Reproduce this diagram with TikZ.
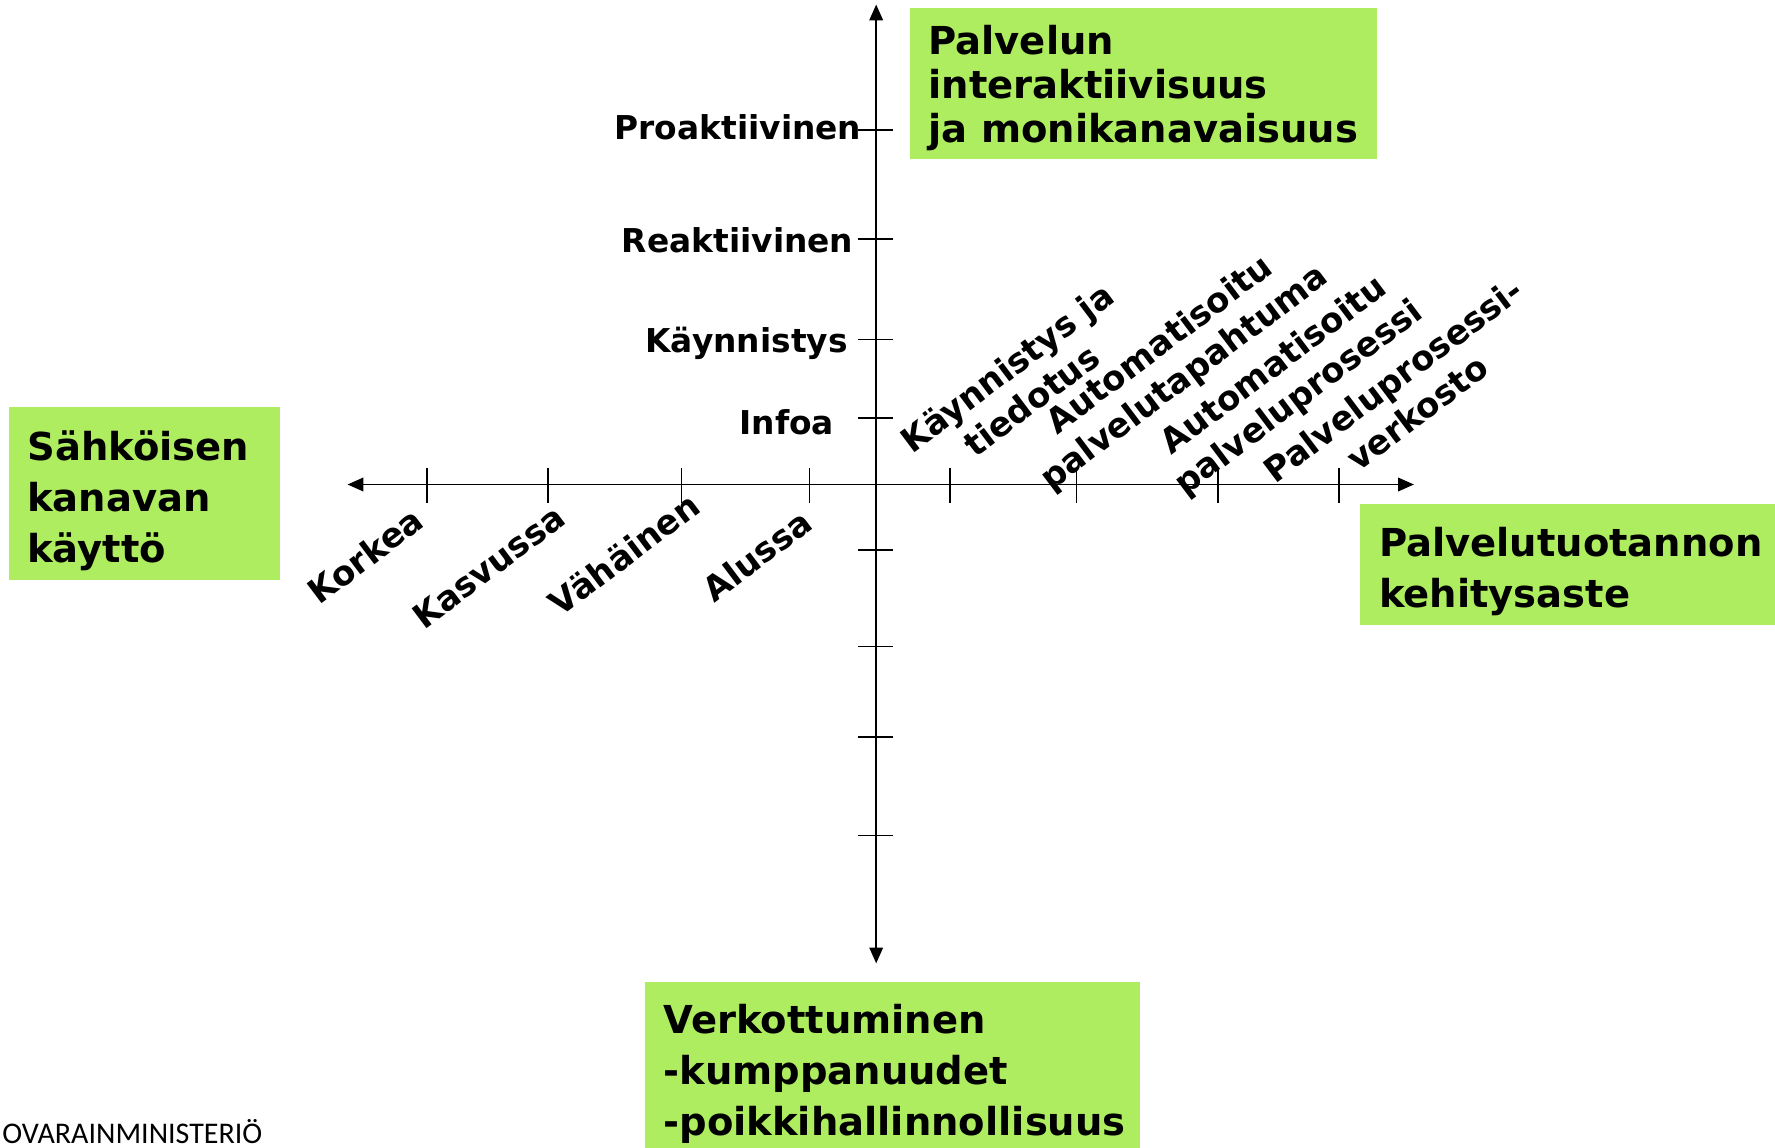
\documentclass[tikz,border=0pt]{standalone}
\usepackage{fontspec}
\setmainfont{DejaVu Sans}
\newfontfamily\footfont{Carlito}
\usetikzlibrary{arrows.meta}
\definecolor{gfill}{RGB}{174,236,96}
\begin{document}
\begin{tikzpicture}[x=1pt,y=-1pt,
  axis/.style={line width=1.6pt, draw=black, {Triangle[length=14pt,width=12pt]}-{Triangle[length=14pt,width=12pt]}},
  tickmark/.style={line width=1.4pt},
  lab/.style={font=\fontsize{29}{35}\selectfont\bfseries, inner sep=0pt},
  dlab/.style={font=\fontsize{30}{36}\selectfont\bfseries, inner sep=0pt, rotate=37, align=center},
  gbox/.style={fill=gfill, draw=none, inner sep=0pt, anchor=north west},
  btext/.style={font=\fontsize{34}{45}\selectfont\bfseries, align=left, inner sep=0pt, anchor=west},
]
\useasboundingbox (0,0) rectangle (1568,1014);

% green boxes
\node[gbox, minimum width=412, minimum height=133] (bTop) at (804,7) {};
\node[gbox, minimum width=239, minimum height=153] (bLeft) at (8,359) {};
\node[gbox, minimum width=367, minimum height=107] (bRight) at (1201,445) {};
\node[gbox, minimum width=437, minimum height=147] (bBot) at (570,867) {};

\node[btext, font=\fontsize{34}{38.9}\selectfont\bfseries] (tTop) at (820,77.6) {Palvelun\\interaktiivisuus\\ja monikanavaisuus};
\node[btext] (tLeft) at (24,442) {Sähköisen\\kanavan\\käyttö};
\node[btext] (tRight) at (1218,505) {Palvelutuotannon\\kehitysaste};
\node[btext] (tBot) at (586,949) {Verkottuminen\\-kumppanuudet\\-poikkihallinnollisuus};

% axes
\coordinate (xl) at (307,428);
\coordinate (xr) at (1249,428);
\coordinate (yt) at (774,4);
\coordinate (yb) at (774,851);
\draw[axis] (xl) -- (xr);
\draw[axis] (yt) -- (yb);

% ticks
\foreach \x in {377,484,602,715,839,951,1076,1183}
  \draw[tickmark] (\x,413) -- (\x,444);
\foreach \y in {115,211,300,369,486,571,651,738}
  \draw[tickmark] (758,\y) -- (789,\y);

% vertical axis labels
\node[lab, anchor=east] (lP) at (761,112) {Proaktiivinen};
\node[lab, anchor=east] (lR) at (754,212) {Reaktiivinen};
\node[lab, anchor=east] (lK) at (749,303) {Käynnistys};
\node[lab, anchor=east] (lI) at (737,373) {Infoa};

% left horizontal labels
\node[dlab, anchor=east] (hK) at (370,455) {Korkea};
\node[dlab, anchor=east] (hKa) at (495,453) {Kasvussa};
\node[dlab, anchor=east] (hV) at (614,442) {Vähäinen};
\node[dlab, anchor=east] (hA) at (713,457) {Alussa};

% right horizontal labels
\node[dlab] (r1) at (900,339) {Käynnistys ja\\tiedotus};
\node[dlab] (r2) at (1036,320) {Automatisoitu\\palvelutapahtuma};
\node[dlab] (r3) at (1137,338) {Automatisoitu\\palveluprosessi};
\node[dlab] (r4) at (1241,350) {Palveluprosessi-\\verkosto};

% footer
\node[font=\footfont\fontsize{26.5}{30}\selectfont, anchor=base west, inner sep=0pt] (foot) at (2,1010) {OVARAINMINISTERIÖ};
\end{tikzpicture}
\end{document}
